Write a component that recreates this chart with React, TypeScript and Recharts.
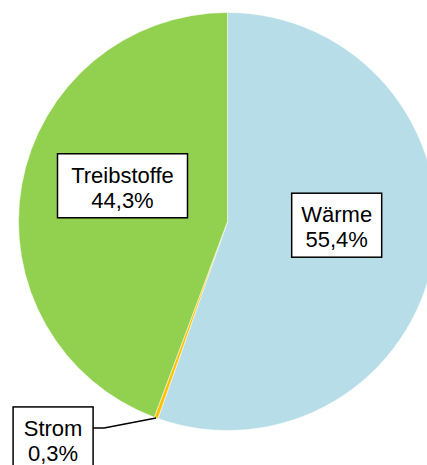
import { Pie, PieChart, Cell } from "recharts";

// Energieverbrauch nach Verwendungszweck
const categories = ["Wärme", "Strom", "Treibstoffe"];
const shares = [55.4, 0.3, 44.3];
const sliceColors = ["#b7dde8", "#ffc000", "#92d050"];

// label box layout (not data)
const boxWidths = [90, 80, 130];
const labelRadius = [0.53, 0, 0.53];
const labelShiftX = [0, 0, 4];
const labelShiftY = [-15, 0, -16];

const data = categories.map((name, i) => ({ name, value: shares[i] }));

const RAD = Math.PI / 180;
const BOX_H = 64;

const fmt = (v: number) => v.toFixed(1).replace(".", ",") + "%";

const renderLabel = (props: any) => {
  const { cx, cy, midAngle, outerRadius, index, name, value } = props;
  const w = boxWidths[index];
  const cos = Math.cos(-midAngle * RAD);
  const sin = Math.sin(-midAngle * RAD);

  if (name === "Strom") {
    // small slice: box outside with leader line
    const sx = cx + outerRadius * cos;
    const sy = cy + outerRadius * sin;
    const ex = sx - 52;
    const ey = sy + 10;
    const bx = ex - 11 - w;
    const by = ey - 21;
    return (
      <g>
        <polyline
          points={`${sx},${sy} ${ex},${ey} ${ex - 11},${ey}`}
          fill="none"
          stroke="#000"
          strokeWidth={1.5}
        />
        <rect x={bx} y={by} width={w} height={BOX_H} fill="#fff" stroke="#000" strokeWidth={1.5} />
        <text x={bx + w / 2} y={by + 29} textAnchor="middle" fontSize={22} fill="#000">
          {name}
        </text>
        <text x={bx + w / 2} y={by + 54} textAnchor="middle" fontSize={22} fill="#000">
          {fmt(value)}
        </text>
      </g>
    );
  }

  const r = outerRadius * labelRadius[index];
  const mx = cx + r * cos + labelShiftX[index];
  const my = cy + r * sin + labelShiftY[index];
  const bx = mx - w / 2;
  const by = my - BOX_H / 2;
  return (
    <g>
      <rect x={bx} y={by} width={w} height={BOX_H} fill="#fff" stroke="#000" strokeWidth={1.5} />
      <text x={mx} y={by + 29} textAnchor="middle" fontSize={22} fill="#000">
        {name}
      </text>
      <text x={mx} y={by + 54} textAnchor="middle" fontSize={22} fill="#000">
        {fmt(value)}
      </text>
    </g>
  );
};

const App = () => {
  return (
    <div
      style={{
        position: "absolute",
        left: 0,
        top: 0,
        width: 427,
        height: 465,
        background: "#fff",
        fontFamily: "'Liberation Sans', Arial, sans-serif",
      }}
    >
      <PieChart width={427} height={465} margin={{ top: 0, right: 0, bottom: 0, left: 0 }}>
        <Pie
          data={data}
          dataKey="value"
          nameKey="name"
          cx={227.5}
          cy={221.5}
          outerRadius={209}
          startAngle={90}
          endAngle={-270}
          stroke="#fff"
          strokeWidth={0.5}
          label={renderLabel}
          labelLine={false}
          isAnimationActive={false}
        >
          {data.map((d, i) => (
            <Cell key={d.name} fill={sliceColors[i]} />
          ))}
        </Pie>
      </PieChart>
    </div>
  );
};

export default App;
